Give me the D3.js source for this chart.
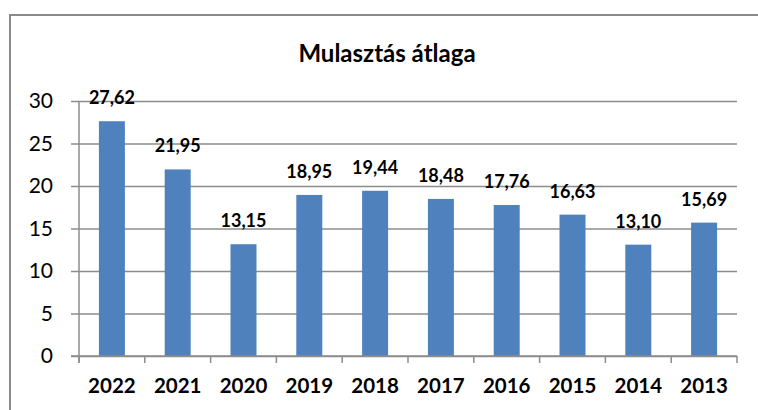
<!DOCTYPE html>
<html>
<head>
<meta charset="utf-8">
<script src="https://cdn.jsdelivr.net/npm/d3@7"></script>
<style>
  html, body { margin: 0; padding: 0; background: #fff; }
  svg { display: block; }
  text { font-family: Lato, "Open Sans", sans-serif; fill: #000; }
</style>
</head>
<body>
<svg id="chart" width="758" height="410"></svg>
<script>
const title = "Mulasztás átlaga";
const years = ["2022", "2021", "2020", "2019", "2018", "2017", "2016", "2015", "2014", "2013"];
const values = [27.62, 21.95, 13.15, 18.95, 19.44, 18.48, 17.76, 16.63, 13.10, 15.69];
const yTicks = [0, 5, 10, 15, 20, 25, 30];

const svg = d3.select("#chart");
const plot = { left: 79, right: 737, top: 101, bottom: 356 };

// outer chart border (cropped at right and bottom)
svg.append("rect")
  .attr("x", 10).attr("y", 15)
  .attr("width", 900).attr("height", 600)
  .attr("fill", "none")
  .attr("stroke", "#8a8a8a")
  .attr("stroke-width", 2);

svg.append("text")
  .attr("x", 387).attr("y", 62)
  .attr("text-anchor", "middle")
  .attr("font-size", 24)
  .attr("font-weight", "bold")
  .text(title);

const x = d3.scaleBand()
  .domain(years)
  .range([plot.left, plot.right])
  .paddingInner(0.605)
  .paddingOuter(0.3025);

const y = d3.scaleLinear()
  .domain([0, 30])
  .range([plot.bottom, plot.top]);

// gridlines + y ticks
const yAxis = d3.axisLeft(y)
  .tickValues(yTicks)
  .tickSize(plot.right - plot.left + 8)
  .tickPadding(18)
  .tickFormat(d3.format("d"));

const gy = svg.append("g")
  .attr("transform", `translate(${plot.right},0)`)
  .call(yAxis);
gy.select(".domain").remove();
gy.selectAll(".tick line")
  .attr("stroke", "#8c8c8c")
  .attr("stroke-width", 1.5);
gy.selectAll(".tick text")
  .attr("x", -(plot.right - plot.left) - 26)
  .attr("font-size", 21)
  .attr("fill", "#000");

// vertical axis line
svg.append("line")
  .attr("x1", plot.left).attr("x2", plot.left)
  .attr("y1", plot.top).attr("y2", plot.bottom + 7)
  .attr("stroke", "#8c8c8c").attr("stroke-width", 1.5);

// bars
svg.append("g").selectAll("rect")
  .data(values)
  .join("rect")
  .attr("x", (d, i) => x(years[i]))
  .attr("y", d => y(d))
  .attr("width", x.bandwidth())
  .attr("height", d => y(0) - y(d))
  .attr("fill", "#4f81bd");

// x axis: baseline and category-boundary ticks
svg.append("line")
  .attr("x1", plot.left - 8).attr("x2", plot.right)
  .attr("y1", plot.bottom).attr("y2", plot.bottom)
  .attr("stroke", "#8c8c8c").attr("stroke-width", 1.5);

const step = x.step();
svg.append("g").selectAll("line")
  .data(d3.range(years.length + 1))
  .join("line")
  .attr("x1", i => plot.left + i * step)
  .attr("x2", i => plot.left + i * step)
  .attr("y1", plot.bottom)
  .attr("y2", plot.bottom + 7)
  .attr("stroke", "#8c8c8c").attr("stroke-width", 1.5);

// x labels
svg.append("g").selectAll("text")
  .data(years)
  .join("text")
  .attr("x", d => x(d) + x.bandwidth() / 2)
  .attr("y", 393)
  .attr("text-anchor", "middle")
  .attr("font-size", 20.5)
  .attr("font-weight", "bold")
  .text(d => d);

// data labels
const fmt = v => v.toFixed(2).replace(".", ",");
svg.append("g").selectAll("text")
  .data(values)
  .join("text")
  .attr("x", (d, i) => x(years[i]) + x.bandwidth() / 2)
  .attr("y", d => y(d) - 17)
  .attr("text-anchor", "middle")
  .attr("font-size", 18)
  .attr("font-weight", "bold")
  .text(d => fmt(d));
</script>
</body>
</html>
